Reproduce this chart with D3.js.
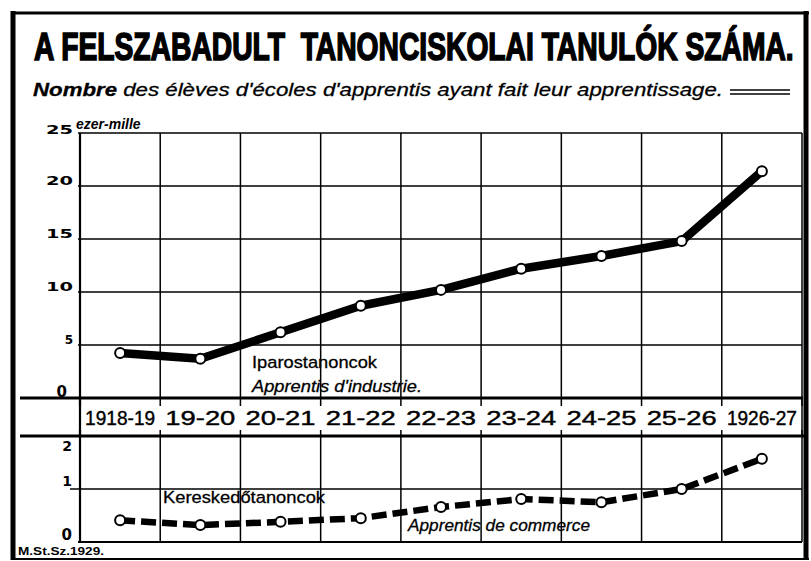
<!DOCTYPE html>
<html><head><meta charset="utf-8">
<script src="https://cdn.jsdelivr.net/npm/d3@7"></script>
<style>body{margin:0;background:#fff}svg{display:block}text{fill:#000}</style>
</head><body>
<svg id="c" width="811" height="561"></svg>
<script>
const categories = ["1918-19","19-20","20-21","21-22","22-23","23-24","24-25","25-26","1926-27"];
const industry = [4.25, 3.7, 6.2, 8.7, 10.2, 12.2, 13.4, 14.8, 21.4];
const commerce = [0.41, 0.32, 0.38, 0.45, 0.66, 0.81, 0.75, 1.0, 1.57];
const upperTicks = [0, 5, 10, 15, 20, 25];
const lowerTicks = [0, 1, 2];

const svg = d3.select("#c");
const x = d3.scaleBand().domain(categories).range([80, 802]).paddingInner(0).paddingOuter(0);
const yU = d3.scaleLinear().domain([0, 25]).range([398, 133]);
const yL = d3.scaleLinear().domain([0, 2]).range([542, 436]);
const cx = d => x(d) + x.bandwidth() / 2;

// outer frame
const frame = svg.append("g").attr("stroke", "#000").attr("fill", "none");
frame.append("line").attr("x1", 13).attr("x2", 13).attr("y1", 11).attr("y2", 560).attr("stroke-width", 5);
frame.append("line").attr("x1", 11).attr("x2", 809).attr("y1", 13).attr("y2", 13).attr("stroke-width", 3);
frame.append("line").attr("x1", 806).attr("x2", 806).attr("y1", 11).attr("y2", 560).attr("stroke-width", 5);
frame.append("line").attr("x1", 11).attr("x2", 809).attr("y1", 559).attr("y2", 559).attr("stroke-width", 2);

// title (condensed by horizontal scaling to fit the frame)
const title = svg.append("text").attr("x", 0).attr("y", 0)
  .style("white-space", "pre")
  .attr("font-family", "Liberation Sans, Arial, sans-serif").attr("font-weight", "bold").attr("font-size", 38)
  .attr("stroke", "#000").attr("stroke-width", 1.6)
  .text("A FELSZABADULT  TANONCISKOLAI TANULÓK SZÁMA.");
const tLen = title.node().getComputedTextLength();
title.attr("transform", `translate(34,60) scale(${760 / tLen},1)`);

const sub = svg.append("text").attr("x", 33).attr("y", 96)
  .attr("textLength", 690).attr("lengthAdjust", "spacingAndGlyphs")
  .attr("font-family", "Liberation Sans, Arial, sans-serif").attr("font-style", "italic").attr("font-size", 19)
  .attr("stroke", "#000").attr("stroke-width", 0.3);
sub.append("tspan").attr("font-weight", "bold").text("Nombre");
sub.append("tspan").text(" des élèves d'écoles d'apprentis ayant fait leur apprentissage.");
svg.append("line").attr("x1", 730).attr("x2", 790).attr("y1", 90).attr("y2", 90).attr("stroke", "#000").attr("stroke-width", 1.5);
svg.append("line").attr("x1", 730).attr("x2", 790).attr("y1", 94).attr("y2", 94).attr("stroke", "#000").attr("stroke-width", 1.5);

svg.append("text").attr("x", 76).attr("y", 129)
  .attr("font-family", "Liberation Sans, Arial, sans-serif").attr("font-style", "italic").attr("font-weight", "bold").attr("font-size", 14)
  .text("ezer-mille");

// grid upper
const grid = svg.append("g").attr("stroke", "#000").attr("fill", "none");
upperTicks.filter(t => t > 0).forEach(t => {
  grid.append("line").attr("x1", 78).attr("x2", 802).attr("y1", yU(t)).attr("y2", yU(t)).attr("stroke-width", 1.6);
});
const bounds = categories.map(c => x(c)).concat([x.range()[1]]);
bounds.forEach((b, i) => {
  grid.append("line").attr("x1", b).attr("x2", b).attr("y1", 133).attr("y2", 406).attr("stroke-width", i === 0 ? 2.2 : 1.5);
  grid.append("line").attr("x1", b).attr("x2", b).attr("y1", 430).attr("y2", 542).attr("stroke-width", i === 0 ? 2.2 : 1.5);
});
grid.append("line").attr("x1", 80).attr("x2", 80).attr("y1", 398).attr("y2", 436).attr("stroke-width", 2.2);
grid.append("line").attr("x1", 802).attr("x2", 802).attr("y1", 398).attr("y2", 436).attr("stroke-width", 1.5);
// thick base lines
grid.append("line").attr("x1", 20).attr("x2", 803).attr("y1", yU(0)).attr("y2", yU(0)).attr("stroke-width", 3);
grid.append("line").attr("x1", 20).attr("x2", 805).attr("y1", yL(2)).attr("y2", yL(2)).attr("stroke-width", 3);
grid.append("line").attr("x1", 70).attr("x2", 802).attr("y1", yL(1)).attr("y2", yL(1)).attr("stroke-width", 1.5);
grid.append("line").attr("x1", 78).attr("x2", 802).attr("y1", yL(0)).attr("y2", yL(0)).attr("stroke-width", 2);

// upper y tick labels
const gyu = svg.append("g");
upperTicks.forEach(t => {
  const lbl = gyu.append("text").attr("x", 73).attr("text-anchor", "end")
    .attr("font-family", "DejaVu Sans, sans-serif").attr("font-weight", "bold").attr("font-size", 12)
    .text(String(t));
  if (t === 0) {
    lbl.attr("x", 67).attr("y", yU(t) - 1).attr("font-size", 15);
  } else {
    lbl.attr("y", yU(t) + (t === 25 ? 1 : -1));
    if (String(t).length === 2) lbl.attr("textLength", 27).attr("lengthAdjust", "spacingAndGlyphs");
  }
});

// x category labels
svg.append("g").selectAll("text").data(categories).join("text")
  .attr("x", d => cx(d)).attr("y", 425).attr("text-anchor", "middle")
  .attr("font-family", "Liberation Sans, Arial, sans-serif").attr("font-size", 20)
  .attr("stroke", "#000").attr("stroke-width", 0.4)
  .attr("textLength", 70).attr("lengthAdjust", "spacingAndGlyphs")
  .text(d => d);

// lower y labels
svg.append("g").selectAll("text").data(lowerTicks).join("text")
  .attr("x", 72).attr("text-anchor", "end")
  .attr("y", d => d === 2 ? 451 : d === 1 ? 486 : 540)
  .attr("font-family", "DejaVu Sans, sans-serif").attr("font-weight", "bold").attr("font-size", d => d === 0 ? 15 : 14)
  .text(d => String(d));

// upper line
const lineU = d3.line().x((d, i) => cx(categories[i])).y(d => yU(d));
svg.append("path").datum(industry).attr("d", lineU)
  .attr("fill", "none").attr("stroke", "#000").attr("stroke-width", 8.5).attr("stroke-linejoin", "round");
svg.append("g").selectAll("circle").data(industry).join("circle")
  .attr("cx", (d, i) => cx(categories[i])).attr("cy", d => yU(d)).attr("r", 5)
  .attr("fill", "#fff").attr("stroke", "#000").attr("stroke-width", 2);

// lower line
const lineL = d3.line().x((d, i) => cx(categories[i])).y(d => yL(d));
svg.append("path").datum(commerce).attr("d", lineL)
  .attr("fill", "none").attr("stroke", "#000").attr("stroke-width", 6.5).attr("stroke-dasharray", "15,6");
svg.append("g").selectAll("circle").data(commerce).join("circle")
  .attr("cx", (d, i) => cx(categories[i])).attr("cy", d => yL(d)).attr("r", 5)
  .attr("fill", "#fff").attr("stroke", "#000").attr("stroke-width", 2);

// series labels
const lab = (t, xx, yy, opts) => {
  const e = svg.append("text").attr("x", xx).attr("y", yy)
    .attr("font-family", "Liberation Sans, Arial, sans-serif").attr("font-size", opts.size || 15).text(t);
  if (opts.italic) e.attr("font-style", "italic");
  if (opts.len) e.attr("textLength", opts.len).attr("lengthAdjust", "spacingAndGlyphs");
  if (opts.bold) e.attr("font-weight", "bold");
  if (opts.stroke) e.attr("stroke", "#000").attr("stroke-width", opts.stroke);
  return e;
};
lab("Iparostanoncok", 252, 368, {size: 17, len: 125, stroke: 0.3});
lab("Apprentis d'industrie.", 252, 392, {size: 17, italic: true, len: 170, stroke: 0.3});
lab("Kereskedőtanoncok", 163, 503, {size: 17, len: 162, stroke: 0.3});
lab("Apprentis de commerce", 408, 531, {size: 17, italic: true, len: 182, stroke: 0.3});
lab("M.St.Sz.1929.", 18, 555, {size: 11, bold: true, len: 86});
</script>
</body></html>
